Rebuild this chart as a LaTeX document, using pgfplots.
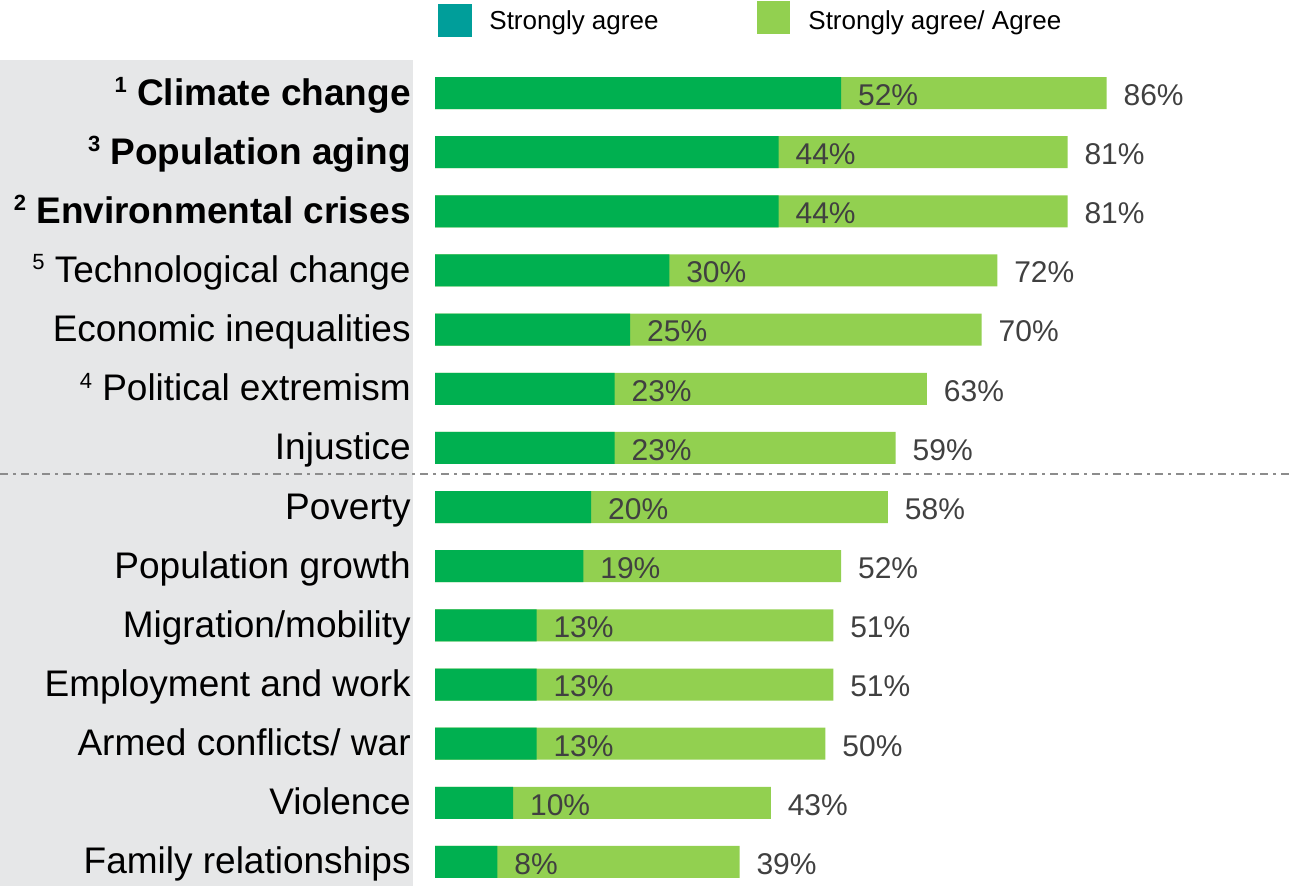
\documentclass[border=0pt]{standalone}
\usepackage{fontspec}
\setmainfont{Liberation Sans}
\usepackage{pgfplots}
\usepackage{pgfplotstable}
\pgfplotsset{compat=1.18}

\definecolor{darkgr}{HTML}{00B050}
\definecolor{lightgr}{HTML}{92D050}
\definecolor{tealleg}{HTML}{009E9A}
\definecolor{panel}{HTML}{E6E7E8}
\definecolor{valtxt}{HTML}{404040}

% k: row (13 = top), strong = strongly agree, total = strongly agree/agree
\pgfplotstableread{
k  strong total
13 52 86
12 44 81
11 44 81
10 30 72
9  25 70
8  23 63
7  23 59
6  20 58
5  19 52
4  13 51
3  13 51
2  13 50
1  10 43
0  8  39
}\datatable

\newcommand{\rank}[1]{\raisebox{6.3pt}{\fontsize{11}{11}\selectfont #1}}

\begin{document}
\begin{tikzpicture}
\useasboundingbox (0,0) rectangle (647pt,443pt);
\fill[panel] (0,0) rectangle (206.35pt,413pt);
\draw[gray!90, line width=1pt, dash pattern=on 4pt off 2.5pt on 1.5pt off 2.5pt]
  (0,206pt) -- (647pt,206pt);

% legend
\fill[tealleg] (218.75pt,424.5pt) rectangle (235.85pt,441pt);
\node[anchor=base west, inner sep=0pt, font=\fontsize{13}{13}\selectfont]
  at (244.5pt,428pt) {Strongly agree};
\fill[lightgr] (378.5pt,426pt) rectangle (395pt,442.5pt);
\node[anchor=base west, inner sep=0pt, font=\fontsize{13}{13}\selectfont]
  at (404pt,428pt) {Strongly agree/ Agree};

\begin{axis}[
  at={(217.5pt,-2.79pt)}, anchor=south west,
  scale only axis,
  width=429.5pt, height=414.05pt,
  xmin=0, xmax=110,
  ymin=-0.5, ymax=13.5,
  xbar, bar shift=0pt,
  bar width=16pt,
  clip=false,
  axis line style={draw=none},
  tick style={draw=none},
  xtick=\empty,
  ytick={0,...,13},
  yticklabels={
    Family relationships,
    Violence,
    Armed conflicts/ war,
    Employment and work,
    Migration/mobility,
    Population growth,
    Poverty,
    Injustice,
    {\rank{4} Political extremism},
    Economic inequalities,
    {\rank{5} Technological change},
    {\bfseries\rank{2} Environmental crises},
    {\bfseries\rank{3} Population aging},
    {\bfseries\rank{1} Climate change}},
  yticklabel style={font=\fontsize{18.5}{20}\selectfont, text=black,
    anchor=base east, inner sep=0pt, xshift=-7.7pt, yshift=-6pt},
  nodes near coords={\pgfmathprintnumber[assume math mode=true]{\pgfplotspointmeta}\%},
  every node near coord/.append style={anchor=west, inner sep=0pt,
    xshift=8.3pt, yshift=-1pt, text=valtxt, font=\fontsize{15}{15}\selectfont},
  point meta=explicit,
]
\addplot[fill=lightgr, draw=none] table[x=total, y=k, meta=total] {\datatable};
\addplot[fill=darkgr, draw=none] table[x=strong, y=k, meta=strong] {\datatable};
\end{axis}
\end{tikzpicture}
\end{document}
